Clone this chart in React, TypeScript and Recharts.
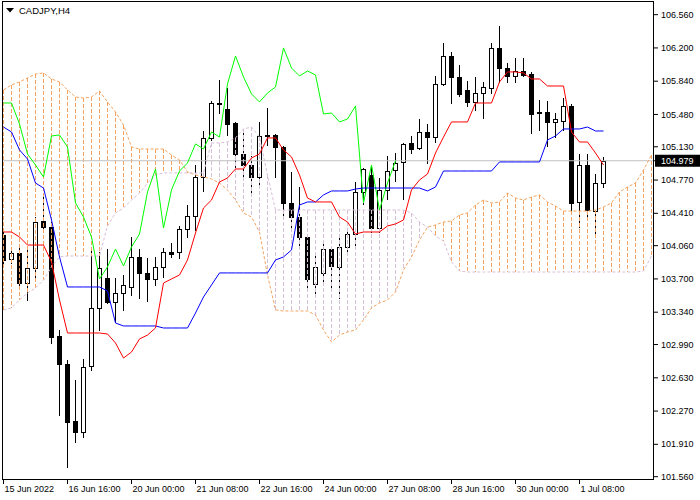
import { Bar, ComposedChart, Line, ReferenceLine, XAxis, YAxis } from "recharts";

// CADJPY H4, 15 Jun - 1 Jul 2022, Ichimoku (9, 26, 52)
const opens = [
	104.176, 103.916, 103.981, 103.657, 103.819, 104.327, 104.262, 103.082, 102.779, 102.163,
	102.043, 102.758, 103.386, 103.71, 103.451, 103.548, 103.613, 103.938, 103.765, 103.7,
	103.83, 103.992, 103.992, 104.241, 104.381, 104.803, 105.226, 105.593, 105.539, 105.388,
	105.052, 104.933, 104.803, 105.252, 105.258, 105.128, 104.522, 104.37, 104.154, 103.646,
	103.765, 104.024, 103.83, 104.046, 104.186, 104.641, 104.825, 104.251, 104.663, 104.879,
	104.966, 105.172, 105.117, 105.29, 105.236, 105.81, 106.113, 105.886, 105.745, 105.615,
	105.713, 105.767, 106.2, 105.983, 105.896, 105.951, 105.918, 105.507, 105.507, 105.399,
	105.409, 105.572, 104.533, 104.933, 104.435, 104.738,
];
const highs = [
	104.219, 104.024, 104.046, 104.046, 104.37, 104.587, 104.316, 103.147, 102.823, 102.606,
	102.833, 104.035, 103.992, 104.024, 103.71, 103.743, 104.154, 104.024, 103.927, 103.938,
	104.035, 104.089, 104.273, 104.5, 104.933, 105.301, 105.626, 105.853, 105.767, 105.399,
	105.323, 105.031, 105.399, 105.55, 105.269, 105.139, 104.857, 104.695, 104.165, 103.959,
	104.089, 104.035, 104.143, 104.251, 104.749, 104.901, 104.912, 104.793, 105.031, 105.063,
	105.172, 105.247, 105.431, 105.377, 105.896, 106.254, 106.156, 106.016, 105.842, 105.886,
	105.832, 106.254, 106.438, 106.037, 106.091, 106.091, 105.94, 105.637, 105.626, 105.496,
	105.658, 105.593, 105.052, 105.052, 104.836, 105.02,
];
const lows = [
	103.862, 103.873, 103.613, 103.472, 103.689, 104.241, 103.007, 102.227, 101.665, 101.935,
	101.989, 102.714, 103.147, 103.44, 103.234, 103.364, 103.526, 103.494, 103.461, 103.635,
	103.721, 103.938, 103.927, 104.154, 104.23, 104.652, 105.204, 105.496, 105.258, 104.901,
	104.793, 104.641, 104.717, 105.15, 104.803, 104.36, 104.262, 104.046, 103.602, 103.537,
	103.656, 103.613, 103.494, 103.992, 104.046, 104.511, 104.208, 104.208, 104.565, 104.76,
	104.565, 105.063, 105.106, 104.955, 105.182, 105.799, 105.604, 105.68, 105.572, 105.528,
	105.442, 105.713, 105.832, 105.832, 105.832, 105.896, 105.28, 105.312, 105.139, 105.236,
	105.312, 104.446, 104.262, 104.338, 104.154, 104.695,
];
const closes = [
	103.905, 103.981, 103.657, 103.819, 104.316, 104.262, 103.072, 102.779, 102.152, 102.043,
	102.747, 103.386, 103.819, 103.451, 103.548, 103.635, 103.938, 103.765, 103.7, 103.83,
	103.992, 103.97, 104.241, 104.381, 104.803, 105.226, 105.604, 105.604, 105.377, 105.052,
	104.933, 104.803, 105.247, 105.258, 105.128, 104.522, 104.37, 104.154, 103.7, 103.83,
	104.024, 103.84, 104.046, 104.186, 104.641, 104.89, 104.251, 104.663, 104.868, 104.955,
	105.161, 105.106, 105.29, 105.236, 105.81, 106.113, 105.886, 105.702, 105.615, 105.713,
	105.777, 106.2, 105.983, 105.896, 105.951, 105.907, 105.485, 105.496, 105.399, 105.431,
	105.572, 104.522, 104.933, 104.446, 104.738, 104.979,
];

const tenkan = [
	104.208, 104.208, 104.154, 104.067, 104.067, 104.067, 103.884, 103.472, 103.115, 103.115,
	103.115, 103.115, 103.115, 103.104, 103.007, 102.844, 102.909, 103.05, 103.093, 103.169,
	103.656, 103.7, 103.743, 103.905, 104.197, 104.468, 104.554, 104.749, 104.793, 104.89,
	104.89, 105.009, 105.052, 105.226, 105.226, 105.096, 105.02, 104.825, 104.576, 104.533,
	104.533, 104.533, 104.37, 104.316, 104.186, 104.208, 104.208, 104.208, 104.273, 104.295,
	104.338, 104.663, 104.771, 104.836, 105.063, 105.236, 105.399, 105.399, 105.399, 105.604,
	105.604, 105.604, 105.832, 105.94, 105.94, 105.929, 105.864, 105.864, 105.788, 105.788,
	105.788, 105.29, 105.182, 105.182, 105.063, 104.933,
];
const kijun = [
	105.344, 105.29, 105.096, 104.998, 104.738, 104.684, 104.338, 103.938, 103.613, 103.613,
	103.613, 103.613, 103.613, 103.57, 103.223, 103.191, 103.191, 103.191, 103.191, 103.191,
	103.169, 103.169, 103.169, 103.169, 103.331, 103.505, 103.635, 103.765, 103.765, 103.765,
	103.765, 103.765, 103.765, 103.765, 103.905, 103.938, 104.013, 104.5, 104.533, 104.533,
	104.609, 104.652, 104.652, 104.652, 104.673, 104.684, 104.684, 104.684, 104.684, 104.684,
	104.684, 104.684, 104.684, 104.652, 104.695, 104.868, 104.868, 104.868, 104.868, 104.868,
	104.868, 104.868, 104.966, 104.966, 104.966, 104.966, 104.966, 104.966, 105.204, 105.247,
	105.323, 105.323, 105.323, 105.344, 105.301, 105.301,
];
const spanA = [
	105.745, 105.799, 105.832, 105.875, 105.918, 105.929, 105.864, 105.832, 105.745, 105.669,
	105.658, 105.669, 105.734, 105.615, 105.507, 105.366, 105.128, 105.106, 105.106, 105.106,
	105.106, 105.041, 104.987, 104.857, 104.825, 104.803, 104.782, 104.738, 104.663, 104.554,
	104.414, 104.37, 104.208, 103.743, 103.364, 103.353, 103.353, 103.353, 103.353, 103.31,
	103.147, 103.018, 103.093, 103.126, 103.147, 103.256, 103.386, 103.44, 103.472, 103.559,
	103.797, 103.938, 104.121, 104.262, 104.284, 104.316, 104.327, 104.392, 104.414, 104.5,
	104.554, 104.522, 104.533, 104.63, 104.576, 104.554, 104.587, 104.609, 104.533, 104.489,
	104.435, 104.435, 104.435, 104.435, 104.446, 104.479, 104.522, 104.641, 104.695, 104.738,
	104.879, 105.041,
];
const spanB = [
	103.364, 103.386, 103.472, 103.548, 103.602, 103.689, 103.83, 103.938, 103.948, 103.948,
	103.948, 103.948, 103.948, 104.273, 104.414, 104.468, 104.554, 104.63, 104.738, 104.825,
	104.847, 104.847, 104.847, 104.847, 104.847, 104.847, 105.172, 105.172, 105.182, 105.226,
	105.323, 105.344, 105.236, 104.825, 104.446, 104.446, 104.446, 104.446, 104.446, 104.446,
	104.446, 104.446, 104.446, 104.446, 104.446, 104.446, 104.446, 104.446, 104.446, 104.446,
	104.446, 104.414, 104.316, 104.262, 104.165, 104.111, 103.884, 103.786, 103.775, 103.775,
	103.775, 103.775, 103.775, 103.775, 103.775, 103.775, 103.775, 103.775, 103.775, 103.775,
	103.775, 103.775, 103.775, 103.775, 103.775, 103.775, 103.775, 103.775, 103.775, 103.775,
	103.786, 103.948,
];

const xTickIndexes = [0, 8, 16, 24, 32, 40, 48, 56, 64, 72];
const xTickLabels = [
	"15 Jun 2022",
	"16 Jun 16:00",
	"20 Jun 00:00",
	"21 Jun 08:00",
	"22 Jun 16:00",
	"24 Jun 00:00",
	"27 Jun 08:00",
	"28 Jun 16:00",
	"30 Jun 00:00",
	"1 Jul 08:00",
];
const yTicks = [
	106.56, 106.2, 105.84, 105.48, 105.13, 104.77, 104.41, 104.06, 103.7, 103.34, 102.99,
	102.63, 102.27, 101.91, 101.56,
];
const lastPrice = 104.979;

const SHIFT = 26;
const UP_KUMO = "#F4A460";
const DOWN_KUMO = "#D8BFD8";
const FONT = "'Liberation Sans', Arial, sans-serif";

const rows = spanA.map((a, i) => {
	const b = spanB[i];
	const hasBar = i < closes.length;
	const lo = Math.min(a, b, hasBar ? lows[i] : Infinity);
	const hi = Math.max(a, b, hasBar ? highs[i] : -Infinity);
	return {
		i,
		open: hasBar ? opens[i] : undefined,
		high: hasBar ? highs[i] : undefined,
		low: hasBar ? lows[i] : undefined,
		close: hasBar ? closes[i] : undefined,
		tenkan: tenkan[i],
		kijun: kijun[i],
		chikou: closes[i + SHIFT],
		spanA: a,
		spanB: b,
		range: [lo, hi],
	};
});

function CandleShape(props: any) {
	const { x, y, width, height, payload } = props;
	const [lo, hi] = payload.range;
	if (hi === lo || height === undefined) return null;
	const top = Math.min(y, y + height);
	const h = Math.abs(height);
	const toY = (v: number) => top + ((hi - v) / (hi - lo)) * h;
	// snap to the pixel grid so the 1px lines stay sharp
	const cx = Math.floor(x + width / 2) + 0.5;
	const a = payload.spanA;
	const b = payload.spanB;

	let candle = null;
	if (payload.close !== undefined) {
		const bull = payload.close >= payload.open;
		const bodyTop = Math.round(toY(Math.max(payload.open, payload.close)));
		const bodyBot = Math.round(toY(Math.min(payload.open, payload.close)));
		candle = (
			<g>
				<line
					x1={cx}
					x2={cx}
					y1={Math.round(toY(payload.high))}
					y2={Math.round(toY(payload.low)) + 1}
					stroke="#000"
				/>
				{bodyBot - bodyTop < 1 ? (
					<line x1={cx - 2.5} x2={cx + 2.5} y1={bodyTop + 0.5} y2={bodyTop + 0.5} stroke="#000" />
				) : (
					<rect
						x={cx - 2}
						y={bodyTop + 0.5}
						width={4}
						height={bodyBot - bodyTop}
						fill={bull ? "#fff" : "#000"}
						stroke="#000"
					/>
				)}
			</g>
		);
	}

	return (
		<g>
			{candle}
			<line
				x1={cx}
				x2={cx}
				y1={Math.round(toY(Math.max(a, b)))}
				y2={Math.round(toY(Math.min(a, b)))}
				stroke={a >= b ? UP_KUMO : DOWN_KUMO}
				strokeDasharray="4 2"
			/>
		</g>
	);
}

function TimeTick(props: any) {
	const { x, y, payload } = props;
	const label = xTickLabels[xTickIndexes.indexOf(payload.value)];
	return (
		<text x={x + 1} y={y} dy="0.71em" textAnchor="start" fontSize={9} fontFamily={FONT} fill="#000">
			{label}
		</text>
	);
}

function PriceTick(props: any) {
	const { x, y, payload } = props;
	const v = payload.value;
	if (Math.abs(v - lastPrice) < 1e-6) {
		return (
			<g>
				<rect x={655} y={y - 6} width={45} height={12} fill="#000" />
				<text x={x} y={y} dy="0.35em" textAnchor="start" fontSize={9} fontFamily={FONT} fill="#fff">
					{v.toFixed(3)}
				</text>
			</g>
		);
	}
	return (
		<text x={x} y={y} dy="0.35em" textAnchor="start" fontSize={9} fontFamily={FONT} fill="#000">
			{v.toFixed(3)}
		</text>
	);
}

export default function App() {
	return (
		<div style={{ position: "absolute", left: 0, top: 0, width: 700, height: 500, background: "#fff" }}>
			<ComposedChart
				width={700}
				height={500}
				data={rows}
				margin={{ top: 2, right: 0, bottom: 0, left: 2 }}
			>
				<XAxis
					dataKey="i"
					type="number"
					domain={[-0.1875, 81.3125]}
					allowDataOverflow
					ticks={xTickIndexes}
					interval={0}
					height={20}
					tickSize={4}
					axisLine={false}
					tickLine={{ stroke: "#000" }}
					tick={<TimeTick />}
				/>
				<YAxis
					orientation="right"
					type="number"
					domain={[101.524, 106.697]}
					allowDataOverflow
					ticks={[...yTicks, lastPrice]}
					interval={0}
					width={46}
					tickSize={4}
					tickMargin={3}
					axisLine={false}
					tickLine={{ stroke: "#000" }}
					tick={<PriceTick />}
				/>
				<ReferenceLine y={lastPrice} stroke="#C0C0C0" />
				<Bar dataKey="range" barSize={5} shape={<CandleShape />} isAnimationActive={false} />
				<Line dataKey="spanA" stroke={UP_KUMO} strokeDasharray="3 2" dot={false} activeDot={false} isAnimationActive={false} />
				<Line dataKey="spanB" stroke={DOWN_KUMO} strokeDasharray="3 2" dot={false} activeDot={false} isAnimationActive={false} />
				<Line dataKey="chikou" stroke="#00FF00" dot={false} activeDot={false} isAnimationActive={false} />
				<Line dataKey="kijun" stroke="#0000FF" dot={false} activeDot={false} isAnimationActive={false} />
				<Line dataKey="tenkan" stroke="#FF0000" dot={false} activeDot={false} isAnimationActive={false} />
			</ComposedChart>
			<div
				style={{
					position: "absolute",
					left: 2,
					top: 1,
					width: 652,
					height: 479,
					border: "1px solid #000",
					boxSizing: "border-box",
					pointerEvents: "none",
				}}
			/>
			<div
				style={{
					position: "absolute",
					left: 6,
					top: 5,
					display: "flex",
					alignItems: "center",
					fontFamily: FONT,
					fontSize: 9.5,
					color: "#000",
					lineHeight: "11px",
				}}
			>
				<svg width={8} height={5} style={{ marginRight: 5 }}>
					<polygon points="0,0 8,0 4,4.5" fill="#000" />
				</svg>
				<span>CADJPY,H4</span>
			</div>
		</div>
	);
}
